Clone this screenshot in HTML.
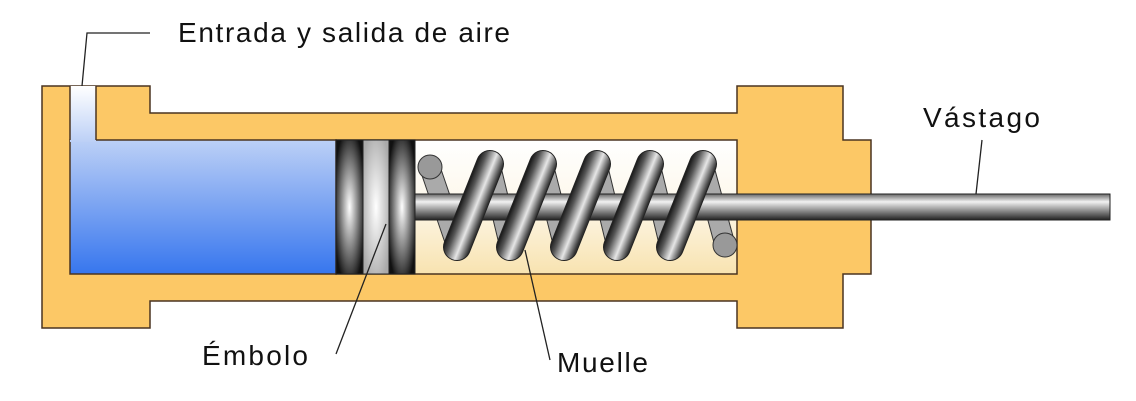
<!DOCTYPE html>
<html><head><meta charset="utf-8"><style>html,body{margin:0;padding:0;background:#fff}svg{display:block}</style></head>
<body>
<svg width="1136" height="401" viewBox="0 0 1136 401" xmlns="http://www.w3.org/2000/svg">
<defs>
<linearGradient id="cav" x1="0" y1="0" x2="0" y2="1"><stop offset="0" stop-color="#ffffff"/><stop offset="0.45" stop-color="#fdf8ec"/><stop offset="1" stop-color="#f8e3b0"/></linearGradient>
<linearGradient id="blue" x1="0" y1="0" x2="0" y2="1"><stop offset="0" stop-color="#bcd0f6"/><stop offset="1" stop-color="#3776ee"/></linearGradient>
<linearGradient id="chan" x1="0" y1="0" x2="0" y2="1"><stop offset="0" stop-color="#ffffff"/><stop offset="1" stop-color="#bcd0f6"/></linearGradient>
<linearGradient id="rod" x1="0" y1="0" x2="0" y2="1"><stop offset="0" stop-color="#666"/><stop offset="0.3" stop-color="#f2f2f2"/><stop offset="1" stop-color="#222"/></linearGradient>
<radialGradient id="disc" cx="0.5" cy="0.5" r="0.6"><stop offset="0" stop-color="#fff"/><stop offset="1" stop-color="#111"/></radialGradient>
<radialGradient id="disc2" cx="0.5" cy="0.5" r="0.6"><stop offset="0" stop-color="#fff"/><stop offset="1" stop-color="#aaa"/></radialGradient>
<linearGradient id="coil" gradientUnits="userSpaceOnUse" x1="541.5" y1="0" x2="594.8" y2="0" spreadMethod="repeat" gradientTransform="skewX(-21.8)">
<stop offset="0" stop-color="#1a1a1a"/><stop offset="0.12" stop-color="#555"/><stop offset="0.32" stop-color="#e6e6e6"/><stop offset="0.52" stop-color="#333"/><stop offset="0.53" stop-color="#333"/><stop offset="1" stop-color="#1a1a1a"/></linearGradient>
<linearGradient id="back" gradientUnits="userSpaceOnUse" x1="0" y1="0" x2="53.3" y2="0" spreadMethod="repeat" gradientTransform="translate(482,0) skewX(14)">
<stop offset="0" stop-color="#f0f0f0"/><stop offset="0.35" stop-color="#666"/><stop offset="1" stop-color="#666"/></linearGradient>
</defs>
<path d="M42,86 H150 V113 H737 V86 H843 V140 H871 V274 H843 V328 H737 V301 H150 V328 H42 Z" fill="#fcc866" stroke="#4a3420" stroke-width="1.5"/>
<rect x="336" y="140" width="401" height="134" fill="url(#cav)" stroke="#4a3420" stroke-width="1.5"/>
<rect x="70" y="140" width="266" height="134" fill="url(#blue)" stroke="#4a3420" stroke-width="1.5"/>
<rect x="70" y="86" width="26" height="56" fill="url(#chan)"/>
<line x1="96" y1="86" x2="96" y2="140" stroke="#4a3420" stroke-width="1.5"/>
<line x1="70" y1="86" x2="70" y2="140" stroke="#4a3420" stroke-width="1.5"/>
<rect x="336" y="140" width="27" height="134" fill="url(#disc)" stroke="#222"/>
<rect x="363" y="140" width="26" height="134" fill="url(#disc2)" stroke="#222"/>
<rect x="389" y="140" width="26" height="134" fill="url(#disc)" stroke="#222"/>
<g stroke="#333" stroke-width="21" stroke-linecap="round" fill="none">
<path d="M430,168 L457,247 M490,164 L510,247 M543,164 L564,247 M597,164 L617,247 M650,164 L670,247 M703,164 L725,245"/>
</g>
<g stroke="#aaa" stroke-width="19" stroke-linecap="round" fill="none">
<path d="M430,168 L457,247 M490,164 L510,247 M543,164 L564,247 M597,164 L617,247 M650,164 L670,247 M703,164 L725,245"/>
</g>
<circle cx="430" cy="167" r="12" fill="#999" stroke="#333"/>
<circle cx="725" cy="245" r="12" fill="#999" stroke="#333"/>
<rect x="415" y="194" width="695" height="26" fill="url(#rod)" stroke="#222"/>
<g stroke="#222" stroke-width="28" stroke-linecap="round" fill="none">
<path d="M457,247 L490,164 M510,247 L543,164 M564,247 L597,164 M617,247 L650,164 M670,247 L703,164"/>
</g>
<g stroke="url(#coil)" stroke-width="26" stroke-linecap="round" fill="none">
<path d="M457,247 L490,164 M510,247 L543,164 M564,247 L597,164 M617,247 L650,164 M670,247 L703,164"/>
</g>
<g stroke="#222" stroke-width="1.3" fill="none">
<path d="M150,33 H87 L82,86"/>
<path d="M982,140 L976,194"/>
<path d="M336,354 L386,224"/>
<path d="M550,360 L525,250"/>
</g>
<g font-family="Liberation Sans, Arial, sans-serif" font-size="28" fill="#111">
<text x="178" y="42" textLength="332">Entrada y salida de aire</text>
<text x="923" y="127" textLength="117">Vástago</text>
<text x="202" y="365" textLength="106">Émbolo</text>
<text x="557" y="372" textLength="91">Muelle</text>
</g>
</svg>
</body></html>
